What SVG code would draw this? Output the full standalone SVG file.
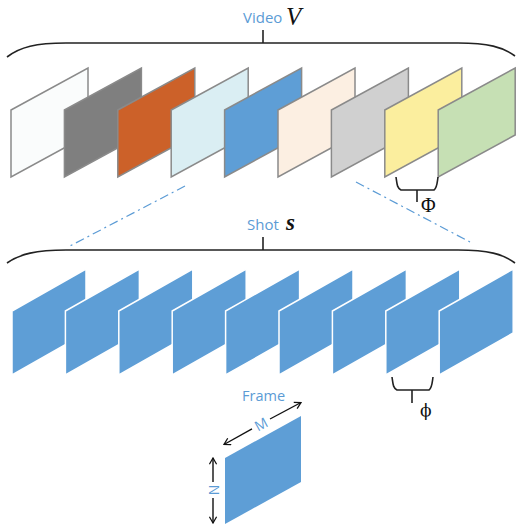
<svg xmlns="http://www.w3.org/2000/svg" width="516" height="530" viewBox="0 0 516 530">
  <defs>
    <style>
      .lbl { font-family: "Open Sans", "Liberation Sans", sans-serif; fill: #5b9bd5; }
      .math { font-family: "Liberation Serif", "Times New Roman", serif; fill: #111; }
      .phi { font-family: "DejaVu Serif", "Liberation Serif", serif; fill: #111; }
      .brace { fill: none; stroke: #222; stroke-width: 1.6; }
      .vf { stroke: #8a8a8a; stroke-width: 1.5; stroke-linejoin: miter; }
      .sf { fill: #5e9ed6; stroke: #ffffff; stroke-width: 1.5; }
      .zoom { fill: none; stroke: #5b9bd5; stroke-width: 1.2; stroke-dasharray: 9 4 2 4; }
      .dim { fill: none; stroke: #111; stroke-width: 1.4; }
    </style>
    <marker id="tip" viewBox="0 0 10 10" refX="9" refY="5" markerWidth="9" markerHeight="9" markerUnits="userSpaceOnUse" orient="auto-start-reverse">
      <path d="M2,1 L9,5 L2,9" fill="none" stroke="#111" stroke-width="1.4"/>
    </marker>
    <polygon id="vframe" points="0,42 77,0 77,67 0,109"/>
    <polygon id="sframe" points="0,42 74,0 74,64 0,106"/>
  </defs>

  <!-- Video level -->
  <g id="video-label">
    <text class="lbl" x="243" y="23" font-size="15">Video</text>
    <text class="math" x="286" y="25" font-size="25" font-style="italic">V</text>
  </g>
  <g id="video-brace">
    <path class="brace" d="M7,57 C20,47 36,43 66,43 L458,43 C488,43 503,47 515,56"/>
    <line class="brace" x1="263" y1="30" x2="263" y2="43"/>
  </g>

  <g id="video-frames">
    <g id="shot1"><use href="#vframe" class="vf" x="11" y="68" fill="#fafcfc"/></g>
    <g id="shot2"><use href="#vframe" class="vf" x="64.4" y="68" fill="#7f7f7f"/></g>
    <g id="shot3"><use href="#vframe" class="vf" x="117.8" y="68" fill="#cc6129"/></g>
    <g id="shot4"><use href="#vframe" class="vf" x="171.2" y="68" fill="#daeef3"/></g>
    <g id="shot5"><use href="#vframe" class="vf" x="224.6" y="68" fill="#5e9ed6"/></g>
    <g id="shot6"><use href="#vframe" class="vf" x="278" y="68" fill="#fcefe2"/></g>
    <g id="shot7"><use href="#vframe" class="vf" x="331.4" y="68" fill="#d0d0d0"/></g>
    <g id="shot8"><use href="#vframe" class="vf" x="384.8" y="68" fill="#fbee9e"/></g>
    <g id="shot9"><use href="#vframe" class="vf" x="438.2" y="68" fill="#c6e0b4"/></g>
  </g>

  <g id="shot-gap">
    <path class="brace" d="M396,177 C397,184 397,188 401,190 L434,190 C437,188 437,184 438,177"/>
    <line class="brace" x1="417" y1="190" x2="417" y2="202"/>
    <text class="math" x="421" y="212" font-size="20">Φ</text>
  </g>

  <g id="connectors">
    <line class="zoom" x1="185" y1="186" x2="68" y2="247"/>
    <line class="zoom" x1="356" y1="182" x2="470" y2="242"/>
  </g>

  <!-- Shot level -->
  <g id="shot-label">
    <text class="lbl" x="247" y="230" font-size="15">Shot</text>
    <text class="math" x="286" y="230" font-size="23" font-style="italic" font-weight="bold">s</text>
  </g>
  <g id="shot-brace">
    <path class="brace" d="M7,263 C20,254 36,250 66,250 L458,250 C488,250 503,254 515,263"/>
    <line class="brace" x1="263" y1="237" x2="263" y2="250"/>
  </g>

  <g id="shot-frames">
    <g id="frame1"><use href="#sframe" class="sf" x="12" y="269"/></g>
    <g id="frame2"><use href="#sframe" class="sf" x="65.4" y="269"/></g>
    <g id="frame3"><use href="#sframe" class="sf" x="118.8" y="269"/></g>
    <g id="frame4"><use href="#sframe" class="sf" x="172.2" y="269"/></g>
    <g id="frame5"><use href="#sframe" class="sf" x="225.6" y="269"/></g>
    <g id="frame6"><use href="#sframe" class="sf" x="279" y="269"/></g>
    <g id="frame7"><use href="#sframe" class="sf" x="332.4" y="269"/></g>
    <g id="frame8"><use href="#sframe" class="sf" x="385.8" y="269"/></g>
    <g id="frame9"><use href="#sframe" class="sf" x="439.2" y="269"/></g>
  </g>

  <g id="frame-gap">
    <path class="brace" d="M392,377 C393,384 393,388 397,390 L429,390 C432,388 432,384 433,377"/>
    <line class="brace" x1="412" y1="390" x2="412" y2="403"/>
    <text class="phi" x="420" y="416" font-size="17">ϕ</text>
  </g>

  <!-- Single frame with its dimensions -->
  <g id="frame">
    <text class="lbl" x="242" y="401" font-size="14.5">Frame</text>
    <polygon points="225,458 301,416 301,482 225,524" fill="#5e9ed6"/>
  </g>
  <g id="dim-M">
    <line class="dim" x1="252" y1="428.8" x2="224" y2="444.5" marker-end="url(#tip)"/>
    <line class="dim" x1="270" y1="419" x2="301" y2="402.5" marker-end="url(#tip)"/>
    <text class="lbl" x="0" y="0" font-size="14" text-anchor="middle" dominant-baseline="central" transform="translate(261,424) rotate(-28.6)">M</text>
  </g>
  <g id="dim-N">
    <line class="dim" x1="213" y1="482" x2="213" y2="458" marker-end="url(#tip)"/>
    <line class="dim" x1="213" y1="498" x2="213" y2="523" marker-end="url(#tip)"/>
    <text class="lbl" x="0" y="0" font-size="14" text-anchor="middle" dominant-baseline="central" transform="translate(213,490) rotate(-90)">N</text>
  </g>
</svg>
